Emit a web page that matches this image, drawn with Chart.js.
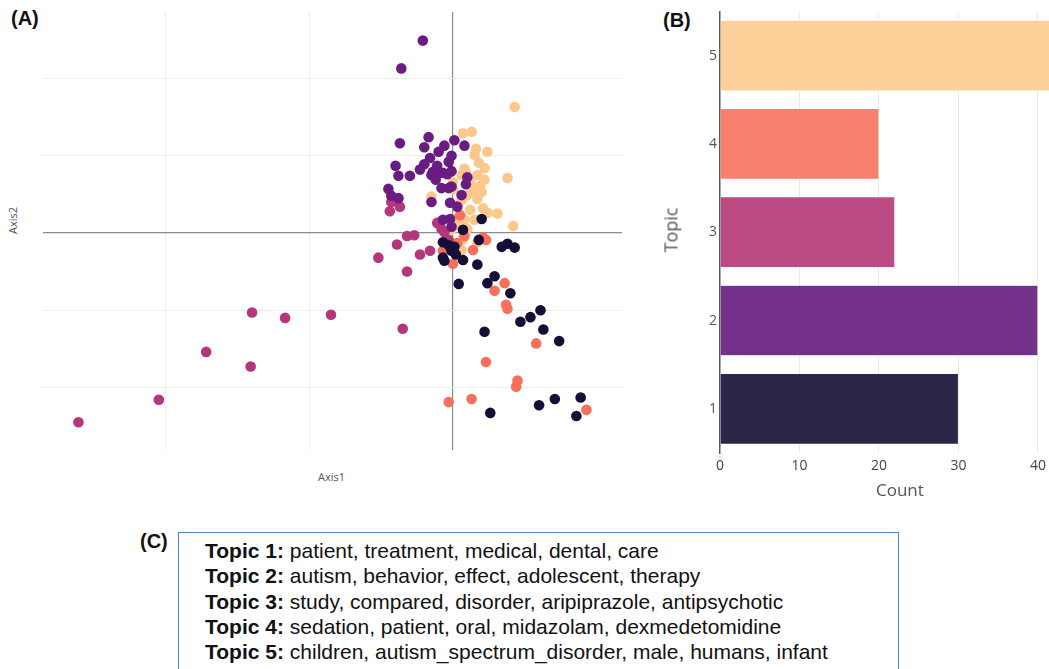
<!DOCTYPE html>
<html>
<head>
<meta charset="utf-8">
<script src="https://cdn.jsdelivr.net/npm/chart.js@4"></script>
<style>
  html, body { margin: 0; padding: 0; width: 1049px; height: 669px; overflow: hidden; background: #fff; }
  body { position: relative; font-family: "Open Sans", sans-serif; }
  .abs { position: absolute; }
  #scatterWrap { left: 43px; top: 12px; width: 579px; height: 438px; }
  #barWrap { left: 640px; top: 0px; width: 440px; height: 511px; }
  .panel { font-family: "Liberation Sans", Arial, sans-serif; font-weight: bold; font-size: 20px; color: #111; }
  .axt { color: #555; white-space: nowrap; }
  #topicBox {
    left: 178px; top: 532px; width: 721px; height: 160px;
    border: 1.5px solid #4f86c6; box-sizing: border-box;
    padding: 5px 0 0 26px;
    font-family: "Liberation Sans", Arial, sans-serif; font-size: 21px; line-height: 25.3px; color: #111;
  }
</style>
</head>
<body>

<div class="abs panel" style="left:11px; top:7px;">(A)</div>
<div class="abs panel" style="left:663px; top:9px;">(B)</div>
<div class="abs panel" style="left:140px; top:530px;">(C)</div>

<div id="scatterWrap" class="abs"><canvas id="scatter"></canvas></div>
<div class="abs axt" style="left:318px; top:469px; font-size:11px;">Axis1</div>
<div class="abs axt" style="left:-1px; top:213px; font-size:11px; transform:rotate(-90deg);">Axis2</div>

<div id="barWrap" class="abs"><canvas id="bar"></canvas></div>
<div class="abs axt" style="left:876px; top:478px; font-size:17px;">Count</div>
<div class="abs axt" style="left:648px; top:218px; font-size:18px; transform:rotate(-90deg);">Topic</div>

<div id="topicBox" class="abs"></div>

<script>
// ---- data ----
const topicNames = ["1", "2", "3", "4", "5"]
const topicCounts = [30, 40, 22, 20, 42]
const countTicks = [0, 10, 20, 30, 40]

const topicWords = [
  "patient, treatment, medical, dental, care",
  "autism, behavior, effect, adolescent, therapy",
  "study, compared, disorder, aripiprazole, antipsychotic",
  "sedation, patient, oral, midazolam, dexmedetomidine",
  "children, autism_spectrum_disorder, male, humans, infant"
]

const topic1Points = [
  [0.20, 0.18], [0.18, -0.09], [0.34, -0.18], [0.38, -0.14], [0.43, -0.19],
  [-0.07, -0.12], [-0.01, -0.23], [-0.07, -0.32], [-0.06, -0.36], [0.07, -0.35],
  [0.02, -0.28], [0.17, -0.41], [0.04, -0.66], [0.29, -0.56], [0.24, -0.65],
  [0.40, -0.78], [0.47, -1.15], [0.54, -1.09], [0.61, -1.00], [0.63, -1.25],
  [0.74, -1.40], [0.22, -1.28], [0.71, -2.15], [0.89, -2.13], [0.60, -2.23],
  [0.86, -2.37], [0.26, -2.33], [0.07, 0.04], [0.01, -0.18], [-0.03, -0.16]
]

const topic2Points = [
  [-0.21, 2.49], [-0.36, 2.13], [-0.37, 1.16], [-0.17, 1.24], [-0.20, 1.11],
  [-0.06, 1.13], [-0.10, 1.05], [0.08, 1.13], [-0.01, 1.00], [-0.03, 0.92],
  [-0.40, 0.87], [-0.20, 0.89], [-0.11, 0.87], [-0.14, 0.79], [-0.15, 0.75],
  [-0.09, 0.78], [-0.07, 0.78], [-0.38, 0.74], [-0.30, 0.74], [-0.01, 0.80],
  [-0.04, 0.76], [0.09, 0.63], [-0.08, 0.58], [-0.03, 0.58], [-0.45, 0.57],
  [-0.38, 0.45], [-0.43, 0.48], [-0.15, 0.40], [-0.02, 0.39], [0.03, 0.34],
  [-0.07, 0.17], [-0.01, 0.08], [-0.02, 0.18], [0.10, 0.72], [-0.01, 0.60],
  [-0.16, 0.97], [0.01, 1.20], [0.06, 0.49], [-0.12, 0.69], [-0.23, 0.82]
]

const topic3Points = [
  [-1.40, -1.03], [-1.17, -1.10], [-0.85, -1.06], [-0.35, -1.24], [-1.72, -1.54],
  [-1.41, -1.73], [-2.05, -2.16], [-2.61, -2.45], [-0.43, 0.40], [-0.44, 0.28],
  [-0.37, 0.34], [-0.11, 0.13], [-0.08, 0.05], [-0.27, -0.03], [-0.32, -0.04],
  [-0.39, -0.15], [-0.52, -0.32], [-0.23, -0.28], [-0.16, -0.23], [-0.32, -0.50],
  [-0.03, -0.09], [-0.06, 0.01]
]

const topic4Points = [
  [0.23, -0.09], [0.14, -0.22], [0.03, -0.13], [-0.07, -0.23], [0.00, -0.40],
  [0.36, -0.65], [0.29, -0.75], [0.37, -0.93], [0.38, -0.98], [0.58, -1.43],
  [0.23, -1.67], [0.45, -1.91], [0.44, -1.99], [0.13, -2.15], [-0.03, -2.19],
  [0.93, -2.29], [0.05, 0.23], [0.21, -0.06], [0.08, -0.04], [-0.01, -0.17]
]

const topic5Points = [
  [0.43, 1.63], [0.07, 1.29], [0.13, 1.31], [0.16, 1.09], [0.24, 1.05],
  [0.15, 1.01], [0.18, 0.91], [0.08, 0.83], [0.06, 0.75], [0.17, 0.75],
  [0.00, 0.66], [0.38, 0.71], [0.19, 0.61], [0.13, 0.60], [0.15, 0.54],
  [0.20, 0.53], [0.17, 0.44], [0.06, 0.43], [-0.15, 0.47], [0.21, 0.32],
  [0.24, 0.26], [0.31, 0.25], [0.42, 0.09], [0.03, 0.19], [0.08, 0.17],
  [0.10, 0.05], [-0.01, 0.04], [0.07, -0.08], [0.06, -0.22], [0.17, -0.12],
  [0.00, 0.57], [0.09, 0.78], [0.12, 0.66], [0.22, 0.69], [0.03, 0.34],
  [0.12, 0.30], [0.15, 0.17], [0.10, 0.49], [0.22, 0.84], [0.02, 0.10]
]

// magma-ish colours, one per topic
const dotColors = ["#150e37", "#6a1c82", "#b5367a", "#f8705c", "#fdc68a"]
const barColors = ["#2d2648", "#73318a", "#bd4b83", "#f77f6d", "#fcd29a"]

// ---- panel C text ----
const box = document.getElementById("topicBox")
box.innerHTML = topicWords.map((w, i) => "<b>Topic " + topicNames[i] + ":</b> " + w).join("<br>")

// ---- panel A: scatter ----
const allPoints = [topic1Points, topic2Points, topic3Points, topic4Points, topic5Points]
const toXY = arr => arr.map(p => ({ x: p[0], y: p[1] }))

const onlyInts = scale => { scale.ticks = scale.ticks.filter(t => Number.isInteger(t.value)) }
const gridColor = ctx => ctx.tick && ctx.tick.value === 0 ? "#8c8c8c" : "#eeeeee"
const gridWidth = ctx => ctx.tick && ctx.tick.value === 0 ? 1.2 : 1

new Chart(document.getElementById("scatter"), {
  type: "scatter",
  data: {
    datasets: allPoints.map((pts, i) => ({
      label: "Topic " + topicNames[i],
      data: toXY(pts),
      backgroundColor: dotColors[i],
      borderWidth: 0,
      pointRadius: 5.3,
      pointHoverRadius: 5.3,
      clip: false
    }))
  },
  options: {
    responsive: true,
    maintainAspectRatio: false,
    animation: false,
    layout: { padding: 0, autoPadding: false },
    plugins: { legend: { display: false }, tooltip: { enabled: false } },
    scales: {
      x: {
        min: -2.857, max: 1.178,
        afterBuildTicks: onlyInts,
        ticks: { display: false, stepSize: 1 },
        border: { display: false },
        grid: { drawTicks: false, color: gridColor, lineWidth: gridWidth }
      },
      y: {
        min: -2.81, max: 2.86,
        afterBuildTicks: onlyInts,
        ticks: { display: false, stepSize: 1 },
        border: { display: false },
        grid: { drawTicks: false, color: gridColor, lineWidth: gridWidth }
      }
    }
  }
})

// ---- panel B: horizontal bar ----
new Chart(document.getElementById("bar"), {
  type: "bar",
  data: {
    labels: topicNames,
    datasets: [{
      data: topicCounts,
      backgroundColor: barColors,
      borderColor: "rgba(255,255,255,0.6)",
      borderWidth: 0.5,
      categoryPercentage: 0.8,
      barPercentage: 1
    }]
  },
  options: {
    indexAxis: "y",
    responsive: true,
    maintainAspectRatio: false,
    animation: false,
    layout: { padding: { top: 6 }, autoPadding: false },
    plugins: { legend: { display: false }, tooltip: { enabled: false } },
    scales: {
      y: {
        reverse: true,
        afterFit: s => { s.width = 80 },
        ticks: { color: "#555", font: { family: "Open Sans", size: 14 }, padding: 3 },
        border: { display: true, color: "#5a5a5a", width: 1.5 },
        grid: { display: false, drawTicks: false }
      },
      x: {
        min: 0, max: 45.3,
        afterBuildTicks: s => { s.ticks = countTicks.map(v => ({ value: v })) },
        afterFit: s => { s.height = 58 },
        ticks: { autoSkip: false, color: "#444", font: { family: "Open Sans", size: 14 }, padding: 5 },
        border: { display: false },
        grid: { drawTicks: false, color: ctx => ctx.tick && ctx.tick.value === 0 ? "rgba(0,0,0,0)" : "#ebebeb" }
      }
    }
  }
})
</script>
</body>
</html>
